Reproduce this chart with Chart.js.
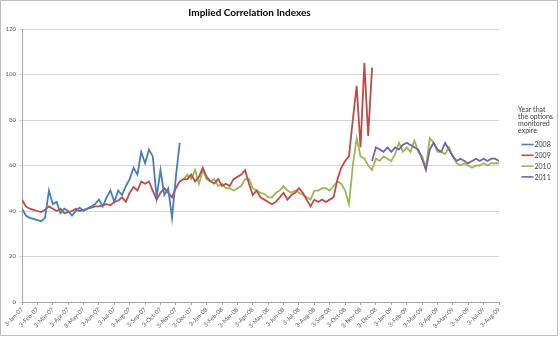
<!DOCTYPE html>
<html>
<head>
<meta charset="utf-8">
<script src="https://cdn.jsdelivr.net/npm/chart.js"></script>
<style>
  body { margin: 0; background: #fff; }
</style>
</head>
<body>
<canvas id="myChart" width="560" height="338"></canvas>
<script>
// month tick labels, one per month from 3-Jan-07
var monthLabels = ['3-Jan-07','3-Feb-07','3-Mar-07','3-Apr-07','3-May-07','3-Jun-07','3-Jul-07','3-Aug-07',
    '3-Sep-07','3-Oct-07','3-Nov-07','3-Dec-07','3-Jan-08','3-Feb-08','3-Mar-08','3-Apr-08','3-May-08',
    '3-Jun-08','3-Jul-08','3-Aug-08','3-Sep-08','3-Oct-08','3-Nov-08','3-Dec-08','3-Jan-09','3-Feb-09',
    '3-Mar-09','3-Apr-09','3-May-09','3-Jun-09','3-Jul-09','3-Aug-09'];

var seriesNames = ['2008', '2009', '2010', '2011'];

// values are roughly weekly (0.25 month apart); start = months after 3-Jan-07
var step = 0.25;

var start2008 = 0;
var idx2008 = [41, 38, 37, 36.5, 36, 35.5, 37, 49, 43, 44, 39, 41, 40, 38, 40, 41.5, 40, 41, 42, 43,
    45, 42, 46, 49, 44, 49, 47, 51, 54, 59, 56, 66, 61, 67, 64, 46, 58, 47, 50, 37, 55, 70];

var start2009 = 0;
var idx2009 = [45, 42, 41, 40.5, 40, 39.5, 40.5, 42, 41, 40, 41, 39, 39.5, 40, 41, 40, 40.5, 41, 41.5, 42,
    42, 42.5, 43, 42.5, 44, 44.5, 46, 44, 48, 50.5, 49, 53, 52, 53, 49, 45, 48, 50, 48, 46,
    50, 53, 54, 54, 56, 53, 55, 59, 55, 53, 52, 54, 51, 52, 51, 54, 55, 56, 58, 52,
    47, 49, 46, 45, 44, 43, 44, 46, 48, 45, 47, 48, 50, 48, 45, 42, 45, 44, 45, 44,
    45, 46, 54, 59, 62, 64, 80, 95, 68, 105, 73, 103];

var start2010 = 10.5;
var idx2010 = [54, 56, 54, 58, 52, 58, 54, 53, 54, 51, 52, 50, 50, 49, 50, 51, 54, 54,
    50, 49, 48, 47.5, 46, 46, 48, 49, 51, 49, 48, 49, 48, 47, 46, 45, 49, 49, 50, 50,
    49, 51, 53, 52, 49, 43, 60, 72, 64, 63, 60, 58, 63, 62, 64, 63, 62, 65, 70, 66,
    68, 66, 71, 66, 64, 59, 72, 70, 66, 66, 65, 68, 64, 61, 60, 61, 60, 59, 60, 60,
    61, 60, 61, 61, 61];

var start2011 = 22.75;
var idx2011 = [62, 68, 67, 66, 68, 66, 68, 67, 69, 70, 69, 68, 67, 63, 58, 67, 70, 67, 66, 70,
    67, 64, 62, 63, 62, 61, 62, 63, 62, 63, 62, 63, 63, 62];

var colors = ['#4A7EBB', '#BE4B48', '#98B954', '#7D60A0'];

function toPoints(start, values) {
    return values.map(function (v, i) {
        return { x: start + i * step, y: v };
    });
}

var allSeries = [
    toPoints(start2008, idx2008),
    toPoints(start2009, idx2009),
    toPoints(start2010, idx2010),
    toPoints(start2011, idx2011)
];
var drawOrder = [0, 1, 3, 2];

// legend on the right, with its title, drawn from the datasets
var sideLegend = {
    id: 'sideLegend',
    afterDraw: function (chart) {
        var ctx = chart.ctx;
        ctx.save();
        ctx.font = '7px Lato';
        ctx.fillStyle = '#404040';
        ctx.textBaseline = 'middle';
        var titleLines = ['Year that', 'the options', 'monitored', 'expire'];
        titleLines.forEach(function (t, i) {
            ctx.fillText(t, 518, 109.5 + i * 7);
        });
        chart.data.datasets.forEach(function (ds, i) {
            var y = 144.5 + i * 10.8;
            ctx.strokeStyle = ds.borderColor;
            ctx.lineWidth = 1.6;
            ctx.beginPath();
            ctx.moveTo(521.5, y);
            ctx.lineTo(533.5, y);
            ctx.stroke();
            ctx.fillText(ds.label, 534.5, y + 0.5);
        });
        // chart area border
        ctx.strokeStyle = '#BFBFBF';
        ctx.lineWidth = 1;
        ctx.strokeRect(0.5, 0.5, 557, 335);
        ctx.restore();
    }
};

var ctx = document.getElementById('myChart').getContext('2d');
var chart = new Chart(ctx, {
    type: 'line',
    data: {
        datasets: seriesNames.map(function (name, i) {
            return {
                label: name,
                data: allSeries[i],
                borderColor: colors[i],
                backgroundColor: colors[i],
                borderWidth: 1.8,
                pointRadius: 0,
                tension: 0,
                fill: false,
                order: drawOrder[i]
            };
        })
    },
    options: {
        responsive: false,
        animation: false,
        layout: { padding: { left: 0, right: 61, top: 0, bottom: 0 } },
        plugins: {
            legend: { display: false },
            tooltip: { enabled: false },
            title: {
                display: true,
                text: 'Implied Correlation Indexes',
                color: '#000',
                font: { family: 'Lato', size: 10, weight: 'bold' },
                padding: { top: 7, bottom: 10 }
            }
        },
        scales: {
            x: {
                type: 'linear',
                min: 0,
                max: 31,
                afterBuildTicks: function (scale) {
                    scale.ticks = monthLabels.map(function (l, i) { return { value: i }; });
                },
                afterFit: function (scale) {
                    scale.height = 36;
                    scale.paddingLeft = 0;
                    scale.paddingRight = 0;
                },
                ticks: {
                    autoSkip: false,
                    minRotation: 45,
                    maxRotation: 45,
                    padding: 1,
                    color: '#595959',
                    font: { family: 'Lato', size: 6 },
                    callback: function (value) { return monthLabels[value]; }
                },
                grid: { drawOnChartArea: false, drawTicks: true, tickLength: 3, color: '#A6A6A6' },
                border: { color: '#A6A6A6' }
            },
            y: {
                min: 0,
                max: 120,
                afterFit: function (scale) {
                    scale.width = 22;
                },
                ticks: {
                    stepSize: 20,
                    padding: 3,
                    color: '#595959',
                    font: { family: 'Lato', size: 6 }
                },
                grid: { color: '#D4D4D4', tickLength: 3 },
                border: { color: '#A6A6A6' }
            }
        }
    },
    plugins: [sideLegend]
});
</script>
</body>
</html>
